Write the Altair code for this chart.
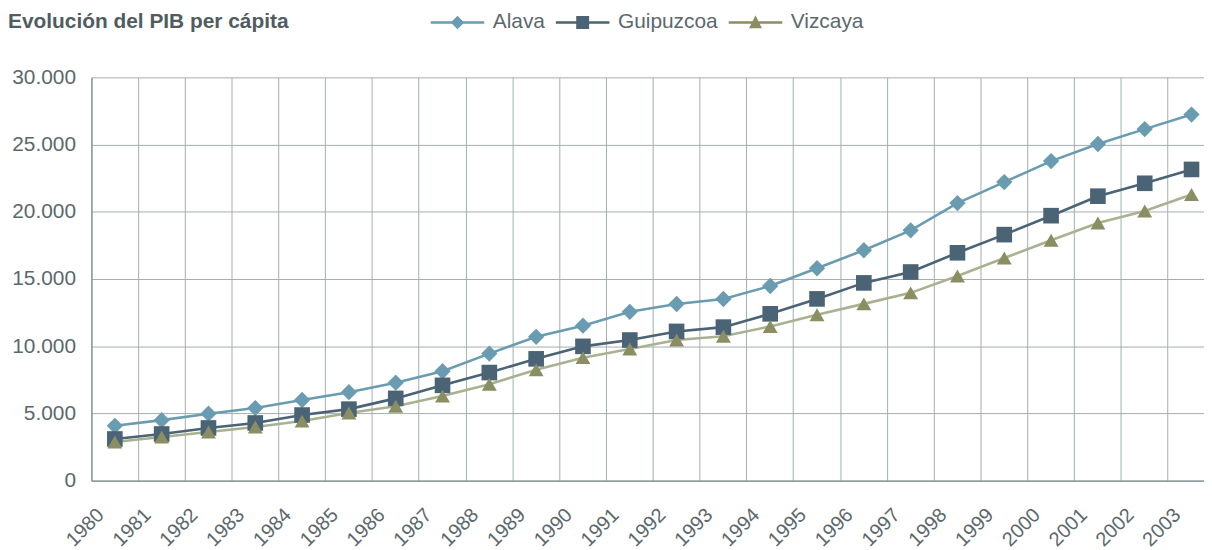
import altair as alt
import pandas as pd

# ---- data ----
years = [str(y) for y in range(1980, 2004)]
series = ["Alava", "Guipuzcoa", "Vizcaya"]
alava = [4080, 4500, 4980, 5400, 6000, 6580, 7290, 8140, 9450, 10700, 11530, 12560,
         13140, 13510, 14480, 15800, 17140, 18620, 20650, 22210, 23770, 25040, 26150, 27230]
guipuzcoa = [3100, 3470, 3920, 4290, 4880, 5320, 6120, 7090, 8040, 9060, 9990, 10460,
             11100, 11420, 12410, 13520, 14710, 15520, 16950, 18300, 19710, 21160, 22120, 23150]
vizcaya = [2880, 3250, 3620, 3990, 4430, 5030, 5540, 6290, 7170, 8250, 9150, 9790,
           10460, 10740, 11470, 12340, 13150, 13970, 15220, 16560, 17880, 19160, 20060, 21280]
y_ticks = [0, 5000, 10000, 15000, 20000, 25000, 30000]
title_text = "Evolución del PIB per cápita"

# ---- styles ----
line_colors = ["#6a9cb1", "#4a6375", "#a9b290"]
marker_colors = ["#6a9cb1", "#4a6375", "#8b8d63"]
marker_shapes = ["diamond", "square", "triangle-up"]
marker_sizes = [270, 225, 240]
legend_line = "M-4.15,-0.18H4.15V0.18H-4.15Z"
legend_shapes = [
    legend_line + "M0,-1.05L1.05,0L0,1.05L-1.05,0Z",
    legend_line + "M-1,-1H1V1H-1Z",
    legend_line + "M0,-1.1L1,0.9L-1,0.9Z",
]
text_color = "#5b686c"
grid_color = "#a2aeae"
domain_color = "#7d8f8f"
FONT = "Liberation Sans"

rows = []
for name, vals in zip(series, [alava, guipuzcoa, vizcaya]):
    for yr, v in zip(years, vals):
        rows.append({"year": yr, "value": v, "serie": name})
df = pd.DataFrame(rows)

x_enc = alt.X(
    "year:O",
    sort=years,
    scale=alt.Scale(type="band", paddingInner=0, paddingOuter=0, range=[0, 1131]),
    axis=alt.Axis(
        title=None, bandPosition=0, labelAngle=-45, labelAlign="right",
        labelBaseline="middle", labelOffset=-14, labelPadding=31, ticks=False,
        tickSize=0, grid=True, gridColor=grid_color, gridWidth=1,
        domainColor=domain_color, domainWidth=1.2, labelFontSize=20,
        labelFont=FONT, labelColor=text_color, labelOverlap=False,
    ),
)
y_enc = alt.Y(
    "value:Q",
    scale=alt.Scale(domain=[0, 30000], nice=False, zero=True),
    axis=alt.Axis(
        title=None, values=y_ticks,
        labelExpr="replace(format(datum.value, ','), ',', '.')",
        ticks=False, tickSize=0, grid=True, gridColor=grid_color, gridWidth=1,
        domainColor=domain_color, domainWidth=1.2, labelFontSize=21,
        labelFont=FONT, labelColor=text_color, labelPadding=16,
    ),
)

base = alt.Chart(df).encode(x=x_enc, y=y_enc)

lines = base.mark_line(strokeWidth=2.6).encode(
    stroke=alt.Stroke("serie:N", scale=alt.Scale(domain=series, range=line_colors), legend=None),
    detail="serie:N",
)

points = base.mark_point(filled=True, opacity=1).encode(
    fill=alt.Fill("serie:N", scale=alt.Scale(domain=series, range=marker_colors), legend=None),
    shape=alt.Shape("serie:N", scale=alt.Scale(domain=series, range=marker_shapes), legend=None),
    size=alt.Size("serie:N", scale=alt.Scale(domain=series, range=marker_sizes), legend=None),
)

legend_cfg = dict(
    orient="none", legendX=358, legendY=-66, direction="horizontal",
    title=None, labelFontSize=21, labelFont=FONT, labelColor=text_color,
    labelOffset=25, columnPadding=10, symbolSize=169, symbolStrokeWidth=0,
    symbolOpacity=1,
)

legend_layer = base.transform_filter("false").mark_point(filled=True, size=169, opacity=1).encode(
    color=alt.Color(
        "serie:N",
        scale=alt.Scale(domain=series, range=marker_colors),
        legend=alt.Legend(**legend_cfg),
    ),
    shape=alt.Shape(
        "serie:N",
        scale=alt.Scale(domain=series, range=legend_shapes),
        legend=alt.Legend(**legend_cfg),
    ),
)

title_layer = alt.Chart(pd.DataFrame({"t": [title_text]})).mark_text(
    align="left", baseline="alphabetic", fontSize=21, fontWeight="bold",
    font=FONT, color="#4f5c60",
).encode(text="t:N", x=alt.value(-84), y=alt.value(-50))

chart = (
    alt.layer(lines, points, legend_layer, title_layer)
    .resolve_scale(shape="independent", color="independent", fill="independent",
                   stroke="independent", size="independent")
    .properties(
        width=1120, height=406,
        autosize=alt.AutoSizeParams(type="none"),
        padding={"left": 84, "top": 68, "right": 0, "bottom": 68},
        background="white",
    )
    .configure_view(stroke=None)
)

chart.save("out.html", embed_options={"renderer": "svg", "actions": False})
